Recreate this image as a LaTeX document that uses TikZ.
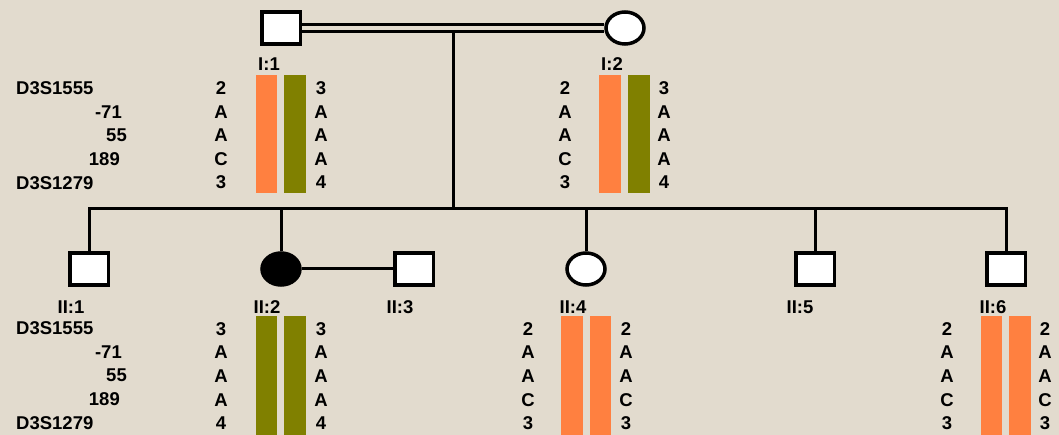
\documentclass[tikz,border=0pt]{standalone}
\usepackage{fontspec}
\setmainfont{Liberation Sans}
\usetikzlibrary{shapes.geometric}
\definecolor{bg}{RGB}{226,219,206}
\definecolor{hapor}{RGB}{255,128,64}
\definecolor{hapol}{RGB}{128,128,0}
\tikzset{
  male/.style={draw=black, fill=white, line width=3.5pt, rectangle, minimum width=38.5pt, minimum height=32pt, inner sep=0pt},
  female/.style={draw=black, fill=white, line width=3.5pt, ellipse, minimum width=38pt, minimum height=32pt, inner sep=0pt},
  affected/.style={fill=black},
  conn/.style={line width=3pt, draw=black},
  txt/.style={font=\fontsize{18.5}{20}\selectfont\bfseries, inner sep=0pt, text height=13pt, text depth=0pt},
  idl/.style={txt},
  orbar/.style={fill=hapor},
  olbar/.style={fill=hapol}
}
\begin{document}
\begin{tikzpicture}[x=1pt,y=-1pt]
\fill[bg] (0,0) rectangle (1059,435);
\useasboundingbox (0,0) rectangle (1059,435);

% Generation I
\node[male] (I1) at (281,28) {};
\node[female] (I2) at (625,28) {};
\draw[conn, line width=2.8pt] ([yshift=3.3pt]I1.east) -- ([yshift=3.3pt]I2.west);
\draw[conn, line width=2.8pt] ([yshift=-3.3pt]I1.east) -- ([yshift=-3.3pt]I2.west);
\coordinate (mar) at (453,31.5);
\coordinate (sib) at (453,209);
\draw[conn] (mar) -- (sib);

% Generation II
\node[male] (II1) at (89,269) {};
\node[female, affected] (II2) at (281,269) {};
\node[male] (II3) at (414,269) {};
\node[female] (II4) at (586,269) {};
\node[male] (II5) at (815,269) {};
\node[male] (II6) at (1006,269) {};

\draw[conn] (II1.north) -- (II1.north |- sib) -- (II6.north |- sib) -- (II6.north);
\draw[conn] (II2.north) -- (II2.north |- sib);
\draw[conn] (II4.north) -- (II4.north |- sib);
\draw[conn] (II5.north) -- (II5.north |- sib);
\draw[conn] (II2.east) -- (II3.west);

% ID labels
\node[idl] (lI1) at (269,64) {I:1};
\node[idl] (lI2) at (612,64) {I:2};
\node[idl] (lII1) at (71,307) {II:1};
\node[idl] (lII2) at (267,307) {II:2};
\node[idl] (lII3) at (400,307) {II:3};
\node[idl] (lII4) at (573,307) {II:4};
\node[idl] (lII5) at (800,307) {II:5};
\node[idl] (lII6) at (993,307) {II:6};

% Marker names
\foreach \yo/\s in {0/a,240/b}{
  \node[txt, anchor=west] (m1\s) at (16,88+\yo) {D3S1555};
  \node[txt, anchor=east] (m2\s) at (122,112+\yo) {-71};
  \node[txt, anchor=east] (m3\s) at (127,135+\yo) {55};
  \node[txt, anchor=east] (m4\s) at (120,159+\yo) {189};
  \node[txt, anchor=west] (m5\s) at (16,183+\yo) {D3S1279};
}

% Haplotype bars
\fill[orbar] (256,75) rectangle (277,193);
\fill[olbar] (284,75) rectangle (306,193);
\fill[orbar] (599,75) rectangle (621,193);
\fill[olbar] (628,75) rectangle (650,193);
\fill[olbar] (256,316) rectangle (277,435);
\fill[olbar] (284,316) rectangle (306,435);
\fill[orbar] (561,316) rectangle (583,435);
\fill[orbar] (590,316) rectangle (611,435);
\fill[orbar] (981,316) rectangle (1002,435);
\fill[orbar] (1009,316) rectangle (1031,435);

% Alleles
% I:1
\foreach \t [count=\i] in {2,A,A,C,3}{ \node[txt] (a\i) at (221,64.5+23.6*\i) {\t}; }
\foreach \t [count=\i] in {3,A,A,A,4}{ \node[txt] (b\i) at (321,64.5+23.6*\i) {\t}; }
% I:2
\foreach \t [count=\i] in {2,A,A,C,3}{ \node[txt] (c\i) at (565,64.5+23.6*\i) {\t}; }
\foreach \t [count=\i] in {3,A,A,A,4}{ \node[txt] (d\i) at (664,64.5+23.6*\i) {\t}; }
% II:2
\foreach \t [count=\i] in {3,A,A,A,4}{ \node[txt] (e\i) at (221,304.8+23.7*\i) {\t}; }
\foreach \t [count=\i] in {3,A,A,A,4}{ \node[txt] (f\i) at (321,304.8+23.7*\i) {\t}; }
% II:4
\foreach \t [count=\i] in {2,A,A,C,3}{ \node[txt] (g\i) at (528,304.8+23.7*\i) {\t}; }
\foreach \t [count=\i] in {2,A,A,C,3}{ \node[txt] (h\i) at (626,304.8+23.7*\i) {\t}; }
% II:6
\foreach \t [count=\i] in {2,A,A,C,3}{ \node[txt] (k\i) at (947,304.8+23.7*\i) {\t}; }
\foreach \t [count=\i] in {2,A,A,C,3}{ \node[txt] (l\i) at (1045,304.8+23.7*\i) {\t}; }
\end{tikzpicture}
\end{document}
